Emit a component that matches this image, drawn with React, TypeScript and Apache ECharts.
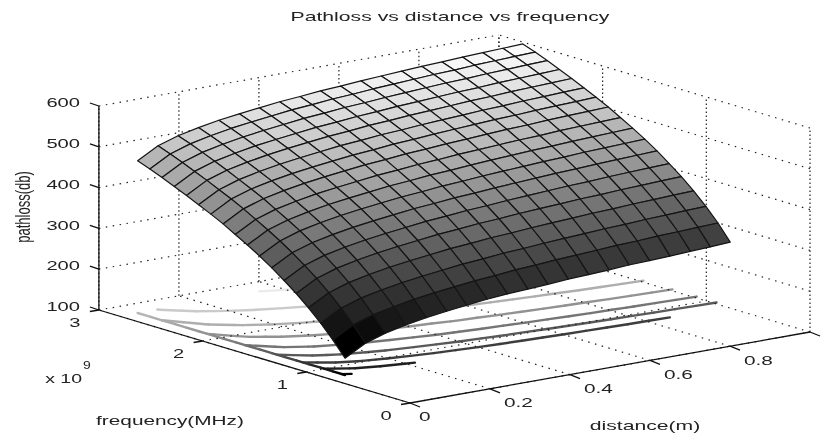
import React, { useEffect, useRef } from "react";
import * as echarts from "echarts";

const title = "Pathloss vs distance vs frequency";
const zLabel = "pathloss(db)";
const fLabel = "frequency(MHz)";
const dLabel = "distance(m)";
const zTicks = [100, 200, 300, 400, 500, 600];
const fTicks = [0, 1, 2, 3];
const dTicks = [0, 0.2, 0.4, 0.6, 0.8];
const dMax = 1;
const contourLevels = [150, 200, 250, 300, 350, 400, 450, 500, 550];

const distances = [0.045, 0.096, 0.146, 0.197, 0.248, 0.299, 0.349, 0.4, 0.451, 0.502, 0.552, 0.603, 0.654, 0.705, 0.755, 0.806, 0.857, 0.908, 0.958, 1.008];
const frequencies = [0.8, 0.918, 1.035, 1.153, 1.271, 1.388, 1.506, 1.624, 1.741, 1.859, 1.976, 2.094, 2.212, 2.329, 2.447, 2.565, 2.682, 2.8];
const pathloss = [
  [141,169,185,196,205,212,218,224,228,231,234,238,240,243,246,248,250,253,255,258],
  [177,205,221,232,241,248,254,260,264,269,272,276,279,282,285,287,290,292,294,296],
  [209,237,253,264,273,280,286,292,296,301,304,308,311,314,317,319,322,324,326,328],
  [238,266,282,293,302,309,315,321,325,330,333,337,340,343,346,348,351,353,355,357],
  [264,292,308,319,328,335,341,347,351,356,359,363,366,369,372,374,377,379,381,383],
  [287,315,331,342,351,358,364,370,374,379,382,386,389,392,395,397,400,402,404,406],
  [309,337,353,364,373,380,386,392,396,401,404,408,411,414,417,419,422,424,426,428],
  [329,357,373,384,393,400,406,412,416,421,424,428,431,434,437,439,442,444,446,448],
  [347,375,391,402,411,418,424,430,434,439,442,446,449,452,455,457,460,462,464,466],
  [364,392,408,419,428,435,441,447,451,456,459,463,466,469,472,474,477,479,481,483],
  [381,409,425,436,445,452,458,464,468,473,476,480,483,486,489,491,494,496,498,500],
  [396,424,440,451,460,467,473,479,483,488,491,495,498,501,504,506,509,511,513,515],
  [410,438,454,465,474,481,487,493,497,502,505,509,512,515,518,520,523,525,527,529],
  [424,452,468,479,488,495,501,507,511,516,519,523,526,529,532,534,537,539,541,543],
  [437,465,481,492,501,508,514,520,524,529,532,536,539,542,545,547,550,552,554,556],
  [450,478,494,505,514,521,527,533,537,542,545,549,552,555,558,560,563,565,567,569],
  [462,490,506,517,526,533,539,545,549,554,557,561,564,567,570,572,575,577,579,581],
  [473,501,517,528,537,544,550,556,560,565,568,572,575,578,581,583,586,588,590,592],
];

const W = 824;
const H = 433;
const zMin = 100;
const zTop = 600;
const fTop = 3;

// orthographic view of the box
const project = (d: number, f: number, z: number): number[] => [
  410 + 400 * d - 103.7 * f,
  403 - 71 * d - 31 * f - 0.408 * (z - zMin),
];

const flat = pathloss.flat();
const zLo = Math.min(...flat);
const zHi = Math.max(...flat);
const gray = (z: number) => {
  const t = Math.max(0, Math.min(1, (z - zLo) / (zHi - zLo)));
  const v = Math.round((Math.floor(t * 63.999) / 63) * 255);
  return `rgb(${v},${v},${v})`;
};

// floor contours derived from the table: [d1,f1,d2,f2,colourValue]
function contourSegments() {
  const out: number[][] = [];
  contourLevels.forEach((lv) => {
    for (let i = 0; i < frequencies.length - 1; i++) {
      for (let j = 0; j < distances.length - 1; j++) {
        const c = [
          [distances[j], frequencies[i], pathloss[i][j]],
          [distances[j + 1], frequencies[i], pathloss[i][j + 1]],
          [distances[j + 1], frequencies[i + 1], pathloss[i + 1][j + 1]],
          [distances[j], frequencies[i + 1], pathloss[i + 1][j]],
        ];
        const hits: number[][] = [];
        for (let k = 0; k < 4; k++) {
          const a = c[k];
          const b = c[(k + 1) % 4];
          if ((a[2] < lv) !== (b[2] < lv)) {
            const t = (lv - a[2]) / (b[2] - a[2]);
            hits.push([a[0] + t * (b[0] - a[0]), a[1] + t * (b[1] - a[1])]);
          }
        }
        if (hits.length >= 2) out.push([hits[0][0], hits[0][1], hits[1][0], hits[1][1], lv]);
      }
    }
  });
  // the contour patches close along the nearest-distance edge of the table
  for (let i = 0; i < frequencies.length - 1; i++) {
    out.push([distances[0], frequencies[i], distances[0], frequencies[i + 1], pathloss[i][0]]);
  }
  return out;
}

// dotted box grid: [d1,f1,z1,d2,f2,z2,vertical?]
function gridLines() {
  const out: number[][] = [];
  const ds = [...dTicks, dMax];
  ds.forEach((d) => {
    out.push([d, 0, zMin, d, fTop, zMin, 0]);
    out.push([d, fTop, zMin, d, fTop, zTop, 1]);
  });
  fTicks.forEach((f) => {
    out.push([0, f, zMin, dMax, f, zMin, 0]);
    out.push([dMax, f, zMin, dMax, f, zTop, 1]);
  });
  zTicks.forEach((z) => {
    if (z === zMin) return;
    out.push([0, fTop, z, dMax, fTop, z, 0]);
    out.push([dMax, 0, z, dMax, fTop, z, 0]);
  });
  return out;
}

// solid axes and ticks: [d1,f1,z1,d2,f2,z2,dx,dy]
function axisLines() {
  const out: number[][] = [
    [0, fTop, zMin, 0, fTop, zTop, 0, 0],
    [0, fTop, zMin, 0, 0, zMin, 0, 0],
    [0, 0, zMin, dMax, 0, zMin, 0, 0],
  ];
  zTicks.forEach((z) => out.push([0, fTop, z, 0, fTop, z, -9, -3]));
  fTicks.forEach((f) => out.push([0, f, zMin, 0, f, zMin, -9, 1.5]));
  dTicks.forEach((d) => out.push([d, 0, zMin, d, 0, zMin, 10, 4]));
  out.push([dMax, 0, zMin, dMax, 0, zMin, 10, 4]);
  return out;
}

// far-to-near painter's order
function cells() {
  const out: number[][] = [];
  for (let i = frequencies.length - 2; i >= 0; i--) {
    for (let j = distances.length - 2; j >= 0; j--) out.push([i, j]);
  }
  return out;
}

const font = "Liberation Sans, Arial, sans-serif";
const txt = (
  text: string,
  x: number,
  y: number,
  align: string,
  size: number,
  scaleX: number
) => ({
  type: "text",
  x,
  y,
  scaleX,
  scaleY: 1,
  silent: true,
  style: { text, fontFamily: font, fontSize: size, fill: "#222", textAlign: align, textVerticalAlign: "middle" },
});

function texts() {
  const out: any[] = [];
  out.push(txt(title, 450, 17, "center", 13, 1.63));
  zTicks.forEach((z) => {
    const p = project(0, fTop, z);
    out.push(txt(String(z), 80, p[1] - 3, "right", 13, 1.55));
  });
  fTicks.forEach((f) => {
    const p = project(0, f, zMin);
    out.push(txt(String(f), p[0] - 24, p[1] + 12.5, "center", 13, 1.55));
  });
  dTicks.forEach((d) => {
    const p = project(d, 0, zMin);
    out.push(txt(String(d), p[0] + (d === 0 ? 9 : 14), p[1] + 14, "left", 13, 1.6));
  });
  out.push(txt("x 10", 82, 379, "right", 13, 1.5));
  out.push(txt("9", 87, 366, "center", 10, 1.4));
  out.push(txt(fLabel, 170, 421, "center", 13, 1.6));
  out.push(txt(dLabel, 645, 426, "center", 13, 1.63));
  out.push({
    type: "text",
    x: 23,
    y: 207,
    rotation: Math.PI / 2,
    scaleX: 1,
    scaleY: 1.6,
    silent: true,
    style: { text: zLabel, fontFamily: font, fontSize: 13, fill: "#222", textAlign: "center", textVerticalAlign: "middle" },
  });
  return out;
}

export default function App() {
  const ref = useRef<HTMLDivElement>(null);
  useEffect(() => {
    const chart = echarts.init(ref.current!, undefined, { renderer: "svg" });
    const option: any = {
      animation: false,
      backgroundColor: "#fff",
      grid: { left: 0, right: 0, top: 0, bottom: 0 },
      xAxis: { type: "value", min: 0, max: W, show: false },
      yAxis: { type: "value", min: 0, max: H, inverse: true, show: false },
      graphic: { elements: texts() },
      series: [
        {
          type: "custom",
          coordinateSystem: "cartesian2d",
          clip: false,
          silent: true,
          data: contourSegments(),
          renderItem: (_p: any, api: any) => {
            const a = api.coord(project(api.value(0), api.value(1), zMin));
            const b = api.coord(project(api.value(2), api.value(3), zMin));
            return {
              type: "line",
              shape: { x1: a[0], y1: a[1], x2: b[0], y2: b[1] },
              style: { stroke: gray(api.value(4)), lineWidth: 2.4, lineCap: "round" },
            };
          },
        },
        {
          type: "custom",
          coordinateSystem: "cartesian2d",
          clip: false,
          silent: true,
          data: gridLines(),
          renderItem: (_p: any, api: any) => {
            const a = api.coord(project(api.value(0), api.value(1), api.value(2)));
            const b = api.coord(project(api.value(3), api.value(4), api.value(5)));
            return {
              type: "line",
              shape: { x1: a[0], y1: a[1], x2: b[0], y2: b[1] },
              style: {
                stroke: "#222",
                lineWidth: 1.2,
                lineDash: api.value(6) ? [1.5, 2.5] : [1.5, 5.5],
              },
            };
          },
        },
        {
          type: "custom",
          coordinateSystem: "cartesian2d",
          clip: false,
          silent: true,
          data: cells(),
          renderItem: (_p: any, api: any) => {
            const i = api.value(0);
            const j = api.value(1);
            const pts = [
              [i, j],
              [i, j + 1],
              [i + 1, j + 1],
              [i + 1, j],
            ].map(([a, b]) => api.coord(project(distances[b], frequencies[a], pathloss[a][b])));
            return {
              type: "polygon",
              shape: { points: pts },
              style: { fill: gray(pathloss[i][j]), stroke: "#151515", lineWidth: 1.2, lineJoin: "round" },
            };
          },
        },
        {
          type: "custom",
          coordinateSystem: "cartesian2d",
          clip: false,
          silent: true,
          data: axisLines(),
          renderItem: (_p: any, api: any) => {
            const a = api.coord(project(api.value(0), api.value(1), api.value(2)));
            const b = api.coord(project(api.value(3), api.value(4), api.value(5)));
            return {
              type: "line",
              shape: { x1: a[0], y1: a[1], x2: b[0] + api.value(6), y2: b[1] + api.value(7) },
              style: { stroke: "#111", lineWidth: 1.3 },
            };
          },
        },
      ],
    };
    chart.setOption(option);
    return () => chart.dispose();
  }, []);
  return <div ref={ref} style={{ position: "absolute", left: 0, top: 0, width: W, height: H, filter: "blur(0.35px)" }} />;
}
